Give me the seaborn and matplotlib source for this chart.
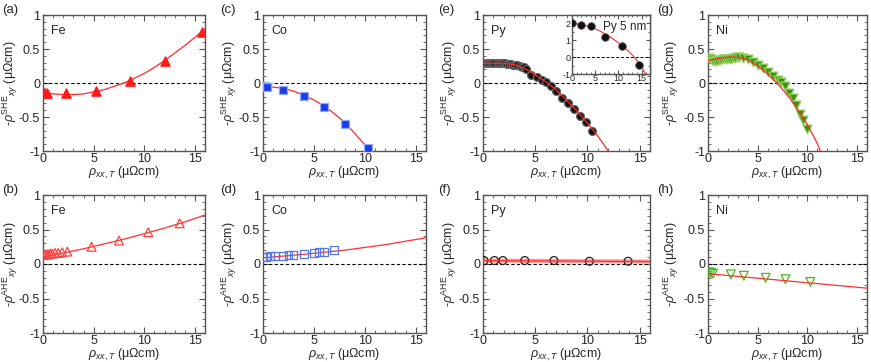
import numpy as np
import pandas as pd
import seaborn as sns
import matplotlib.pyplot as plt
from matplotlib.ticker import MultipleLocator

# ---- data ----
# (a) Fe, SHE
fe_she_x = [0.05, 0.2, 0.4, 2.3, 5.2, 8.6, 12.0, 15.7]
fe_she_y = [-0.15, -0.15, -0.14, -0.15, -0.12, 0.03, 0.33, 0.75]
fe_she_fit_x = [0, 1, 2, 3, 4, 5, 6, 7, 8, 9, 10, 11, 12, 13, 14, 15, 16]
fe_she_fit_y = [-0.14, -0.16, -0.17, -0.17, -0.16, -0.13, -0.10, -0.05, 0.0,
                0.07, 0.14, 0.23, 0.33, 0.44, 0.55, 0.67, 0.80]
# (b) Fe, AHE
fe_ahe_x = [0.1, 0.3, 0.5, 0.7, 0.9, 1.2, 1.5, 1.9, 2.4, 4.8, 7.5, 10.4, 13.5]
fe_ahe_y = [0.13, 0.14, 0.14, 0.15, 0.15, 0.16, 0.16, 0.17, 0.18, 0.25, 0.34, 0.46, 0.59]
fe_ahe_fit_x = [0, 2, 4, 6, 8, 10, 12, 14, 16]
fe_ahe_fit_y = [0.10, 0.16, 0.22, 0.29, 0.36, 0.44, 0.52, 0.61, 0.71]
# (c) Co, SHE
co_she_x = [0.05, 0.35, 2.0, 4.0, 6.0, 8.0, 10.3]
co_she_y = [-0.05, -0.06, -0.10, -0.19, -0.35, -0.60, -0.96]
co_she_fit_x = [0, 1, 2, 3, 4, 5, 6, 7, 8, 9, 10, 10.5]
co_she_fit_y = [-0.05, -0.06, -0.08, -0.12, -0.18, -0.25, -0.34, -0.45, -0.58, -0.74, -0.91, -1.0]
# (d) Co, AHE
co_ahe_x = [0.05, 0.3, 0.7, 1.2, 2.0, 2.5, 3.0, 4.0, 5.0, 5.5, 6.0, 7.0]
co_ahe_y = [0.10, 0.10, 0.11, 0.12, 0.12, 0.13, 0.13, 0.15, 0.16, 0.17, 0.18, 0.20]
co_ahe_fit_x = [0, 4, 8, 12, 16]
co_ahe_fit_y = [0.09, 0.14, 0.20, 0.28, 0.38]
# (e) Py, SHE
py_she_x = [0.1, 0.3, 0.5, 0.7, 0.9, 1.1, 1.3, 1.5, 1.7, 1.9, 2.1, 2.3, 2.5, 2.7,
            2.9, 3.1, 3.3, 3.5, 3.7, 3.9, 4.1, 4.6, 5.2, 5.7, 6.0, 6.5, 7.0, 7.6,
            8.1, 8.7, 9.3, 9.9, 10.4]
py_she_y = [0.29, 0.29, 0.29, 0.29, 0.29, 0.29, 0.29, 0.29, 0.29, 0.29, 0.29, 0.28,
            0.28, 0.28, 0.27, 0.27, 0.26, 0.25, 0.24, 0.23, 0.21, 0.12, 0.09, 0.05,
            0.01, -0.04, -0.12, -0.22, -0.30, -0.38, -0.48, -0.57, -0.71]
py_she_fit_x = [0, 1, 2, 3, 4, 4.5, 5, 6, 7, 8, 9, 10, 11, 12]
py_she_fit_y = [0.29, 0.29, 0.29, 0.27, 0.21, 0.17, 0.12, 0.02, -0.10, -0.25,
                -0.41, -0.59, -0.78, -1.0]
# (e) inset, Py 5 nm
py5_x = [0.0, 2.0, 4.1, 7.2, 10.7, 14.4]
py5_y = [2.0, 1.9, 1.85, 1.22, 0.65, -0.47]
py5_fit_x = [0, 2, 4, 6, 8, 10, 12, 13, 14, 15, 15.8]
py5_fit_y = [2.0, 1.95, 1.8, 1.55, 1.25, 0.85, 0.4, 0.12, -0.2, -0.55, -1.0]
# (f) Py, AHE
py_ahe_x = [0.1, 1.1, 1.9, 4.0, 6.8, 10.2, 13.9]
py_ahe_y = [0.05, 0.05, 0.05, 0.05, 0.05, 0.04, 0.04]
py_ahe_fit_x = [0, 16]
py_ahe_fit_y = [0.05, 0.035]
# (g) Ni, SHE
ni_she_x = [0.1, 0.3, 0.5, 0.7, 0.9, 1.1, 1.3, 1.5, 1.7, 1.9, 2.1, 2.3, 2.5, 2.7,
            2.9, 3.1, 3.5, 4.0, 4.5, 5.0, 5.5, 6.0, 6.5, 7.0, 7.3, 7.7, 8.2, 8.6,
            8.9, 9.3, 9.6, 10.0]
ni_she_y = [0.37, 0.35, 0.33, 0.33, 0.33, 0.34, 0.34, 0.35, 0.35, 0.36, 0.36, 0.36,
            0.37, 0.37, 0.38, 0.38, 0.37, 0.35, 0.31, 0.26, 0.22, 0.16, 0.10, 0.04,
            0.01, -0.04, -0.14, -0.22, -0.32, -0.45, -0.55, -0.68]
ni_she_fit_x = [0, 1, 2, 3, 4, 5, 6, 7, 8, 9, 10, 11, 11.3]
ni_she_fit_y = [0.33, 0.36, 0.38, 0.38, 0.34, 0.25, 0.13, -0.01, -0.18, -0.38, -0.61, -0.89, -1.0]
# (h) Ni, AHE
ni_ahe_x = [0.1, 0.3, 0.5, 2.3, 3.6, 5.8, 7.8, 10.3]
ni_ahe_y = [-0.12, -0.13, -0.14, -0.15, -0.17, -0.20, -0.22, -0.26]
ni_ahe_fit_x = [0, 16]
ni_ahe_fit_y = [-0.14, -0.35]

sns.set_style('ticks')
plt.rcParams['font.family'] = ['Liberation Sans', 'DejaVu Sans']
plt.rcParams['mathtext.fontset'] = 'custom'
plt.rcParams['mathtext.rm'] = 'Liberation Sans'
plt.rcParams['mathtext.it'] = 'Liberation Sans:italic'
plt.rcParams['font.size'] = 9

W, H = 871, 362
fig = plt.figure(figsize=(W / 100, H / 100), dpi=100)

cols = [(43, 205), (263, 426), (483, 650), (708, 867)]
rows = [(15, 151), (195, 333)]
ylab_right = [20, 239, 459, 681]   # right edge of the y label, pixels
letter_x = [2, 220, 438, 657]
letter_y = [10, 190]
spine_col = '#555555'
fit_col = '#ff3030'


def make_ax(l, r, t, b, small=False):
    ax = fig.add_axes([l / W, 1 - b / H, (r - l) / W, (b - t) / H])
    for s in ax.spines.values():
        s.set_color(spine_col)
        s.set_linewidth(1.0)
    ax.tick_params(which='both', direction='in', top=True, right=True,
                   color=spine_col, labelsize=6.5 if small else 9, pad=2)
    ax.tick_params(which='major', length=3 if small else 4, width=0.8)
    ax.tick_params(which='minor', length=1.5 if small else 2, width=0.6)
    return ax


def style_main(ax, c, r, kind, name, letter):
    ax.set_xlim(0, 16)
    ax.set_ylim(-1, 1)
    ax.xaxis.set_major_locator(MultipleLocator(5))
    ax.xaxis.set_minor_locator(MultipleLocator(1))
    ax.yaxis.set_minor_locator(MultipleLocator(0.1))
    ax.set_yticks([-1, -0.5, 0, 0.5, 1])
    ax.set_yticklabels(['-1', '-0.5', '0', '0.5', '1'])
    ax.tick_params(axis='x', pad=1.5)
    ax.axhline(0, color='black', ls='--', lw=0.8, dashes=(3, 2), zorder=1)
    ax.set_xlabel(r'$\rho_{xx,T}$ (μΩcm)', fontsize=9, labelpad=0)
    ax.set_ylabel('-' + r'$\rho^{\rm ' + kind + r'}{}_{xy}$ (μΩcm)', fontsize=9)
    l, rr = cols[c]
    ax.yaxis.set_label_coords((ylab_right[c] - l) / (rr - l), 0.5)
    ax.text(0.05, 0.93, name, transform=ax.transAxes, fontsize=9, va='top', ha='left')
    fig.text(letter_x[c] / W, 1 - letter_y[r] / H, letter, fontsize=9.5,
             va='center', ha='left')


panels = [
    # col, row, x, y, fitx, fity, marker, face, edge, size, kind, name, letter
    (0, 0, fe_she_x, fe_she_y, fe_she_fit_x, fe_she_fit_y, '^', '#ff1a1a', '#ff1a1a', 45, 'SHE', 'Fe', '(a)'),
    (0, 1, fe_ahe_x, fe_ahe_y, fe_ahe_fit_x, fe_ahe_fit_y, '^', 'none', '#ff4040', 40, 'AHE', 'Fe', '(b)'),
    (1, 0, co_she_x, co_she_y, co_she_fit_x, co_she_fit_y, 's', '#1e3ce6', '#8fa8ff', 32, 'SHE', 'Co', '(c)'),
    (1, 1, co_ahe_x, co_ahe_y, co_ahe_fit_x, co_ahe_fit_y, 's', 'none', '#5577ee', 32, 'AHE', 'Co', '(d)'),
    (2, 0, py_she_x, py_she_y, py_she_fit_x, py_she_fit_y, 'o', '#111111', '#666666', 32, 'SHE', 'Py', '(e)'),
    (2, 1, py_ahe_x, py_ahe_y, py_ahe_fit_x, py_ahe_fit_y, 'o', 'none', '#222222', 32, 'AHE', 'Py', '(f)'),
    (3, 0, ni_she_x, ni_she_y, ni_she_fit_x, ni_she_fit_y, 'v', '#3f8f12', '#8fd35a', 40, 'SHE', 'Ni', '(g)'),
    (3, 1, ni_ahe_x, ni_ahe_y, ni_ahe_fit_x, ni_ahe_fit_y, 'v', 'none', '#44bb22', 40, 'AHE', 'Ni', '(h)'),
]

for c, r, x, y, fx, fy, mk, fc, ec, sz, kind, name, letter in panels:
    l, rr = cols[c]
    t, b = rows[r]
    ax = make_ax(l, rr, t, b)
    df = pd.DataFrame({'x': x, 'y': y})
    sns.scatterplot(data=df, x='x', y='y', ax=ax, marker=mk, s=sz,
                    facecolor=fc, edgecolor=ec, linewidth=0.9, zorder=3)
    if name == 'Py' and kind == 'AHE':
        sns.lineplot(x=fx, y=fy, ax=ax, color='#ff9a9a', lw=3, zorder=2)
    sns.lineplot(x=fx, y=fy, ax=ax, color=fit_col if kind == 'AHE' else '#ff2a2a',
                 lw=0.9, zorder=4 if name in ('Py', 'Ni') else 2)
    style_main(ax, c, r, kind, name, letter)

# inset in (e)
axi = make_ax(572, 650, 15, 74, small=True)
sns.scatterplot(x=py5_x, y=py5_y, ax=axi, marker='o', s=30, color='#111111',
                edgecolor='#555555', linewidth=0.6, zorder=3)
sns.lineplot(x=py5_fit_x, y=py5_fit_y, ax=axi, color='#ff2a2a', lw=0.8, zorder=2)
axi.axhline(0, color='black', ls='--', lw=0.7, dashes=(3, 2), zorder=1)
axi.set_xlim(0, 16.8)
axi.set_ylim(-1, 2.5)
axi.set_xticks([0, 5, 10, 15])
axi.set_yticks([-1, 0, 1, 2])
axi.set_yticklabels(['-1', '0', '1', '2'])
axi.xaxis.set_minor_locator(MultipleLocator(1))
axi.yaxis.set_minor_locator(MultipleLocator(0.5))
axi.tick_params(axis='x', pad=0)
axi.tick_params(axis='y', pad=1)
axi.set_xlabel('')
axi.set_ylabel('')
axi.text(0.95, 0.9, 'Py 5 nm', transform=axi.transAxes, fontsize=8.5, va='top', ha='right')

fig.savefig('out.png', dpi=100)
